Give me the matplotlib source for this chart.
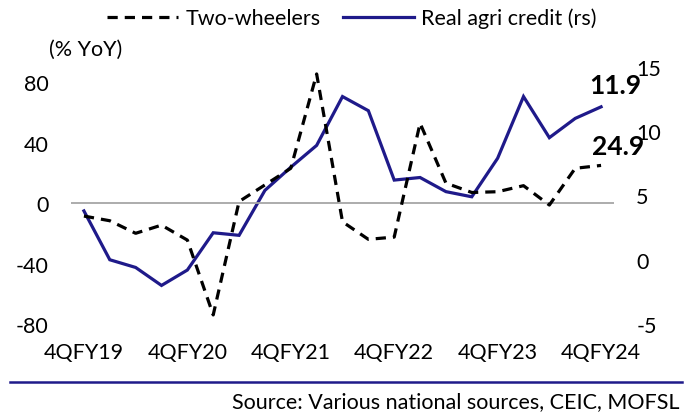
import matplotlib
matplotlib.use("Agg")
import matplotlib.pyplot as plt
from matplotlib.lines import Line2D

plt.rcParams['font.family'] = ['Lato', 'DejaVu Sans']
plt.rcParams['axes.unicode_minus'] = False

quarters = ["4QFY19", "1QFY20", "2QFY20", "3QFY20", "4QFY20", "1QFY21", "2QFY21",
            "3QFY21", "4QFY21", "1QFY22", "2QFY22", "3QFY22", "4QFY22", "1QFY23",
            "2QFY23", "3QFY23", "4QFY23", "1QFY24", "2QFY24", "3QFY24", "4QFY24"]
two_wheelers = [-8.6, -11.7, -20.0, -14.6, -24.5, -74.0, 1.0, 12.0, 23.0, 85.4, -12.4,
                -24.0, -22.5, 52.8, 13.2, 7.0, 7.5, 11.5, -1.3, 23.0, 24.9]
real_agri_credit = [3.8, 0.0, -0.6, -2.0, -0.8, 2.1, 1.9, 5.4, 7.2, 8.9, 12.7, 11.6,
                    6.2, 6.4, 5.3, 4.9, 7.9, 12.7, 9.5, 11.0, 11.9]
left_ticks = [-80, -40, 0, 40, 80]
right_ticks = [-5, 0, 5, 10, 15]
label_ticks = [0, 4, 8, 12, 16, 20]

navy = '#1F1A8A'
fs = 15.5

fig = plt.figure(figsize=(6.94, 4.14), dpi=100)
ax = fig.add_axes([71/694, 1-325/414, 543/694, 257/414])
ax2 = ax.twinx()

x = list(range(len(quarters)))
l2, = ax2.plot(x, real_agri_credit, color=navy, lw=2.3, solid_joinstyle='miter')
l1, = ax.plot(x, two_wheelers, color='black', lw=2.3, dashes=(3.2, 2.2))
ax.axhline(0, color='#A6A6A6', lw=1.3, zorder=0)

ax.set_zorder(ax2.get_zorder() + 1)
ax.patch.set_visible(False)

ax.set_xlim(-0.5, len(quarters) - 0.5)
ax.set_ylim(-80, 90)
ax2.set_ylim(-5, 15)
ax.set_yticks(left_ticks)
ax2.set_yticks(right_ticks)
ax.set_xticks(label_ticks)
ax.set_xticklabels([quarters[i] for i in label_ticks])

for a in (ax, ax2):
    for s in a.spines.values():
        s.set_visible(False)
ax.tick_params(axis='both', length=0, labelsize=fs)
ax.tick_params(axis='y', pad=16)
ax.tick_params(axis='x', pad=13)
ax2.tick_params(axis='y', length=0, labelsize=fs, pad=16)

ax2.annotate(f"{real_agri_credit[-1]:.1f}", xy=(x[-1], real_agri_credit[-1]),
             xytext=(10, 16), textcoords='offset points', ha='center', va='center',
             fontsize=19, fontweight='bold')
ax.annotate(f"{two_wheelers[-1]:.1f}", xy=(x[-1], two_wheelers[-1]),
            xytext=(12, 14), textcoords='offset points', ha='center', va='center',
            fontsize=19, fontweight='bold')

fig.text(86/694, 1-50/414, "(% YoY)", ha='center', va='center', fontsize=fs)

handles = [Line2D([], [], color='black', lw=2.3, dashes=(3.2, 2.2)),
           Line2D([], [], color=navy, lw=2.3)]
fig.legend(handles, ["Two-wheelers", "Real agri credit (rs)"], ncol=2, loc='center',
           bbox_to_anchor=(352/694, 1-19/414), frameon=False, fontsize=fs,
           handlelength=3.3, handletextpad=0.35, columnspacing=1.0, borderpad=0)

fig.add_artist(Line2D([10/694, 682/694], [1-383/414, 1-383/414], color=navy, lw=1.8,
                      transform=fig.transFigure))
fig.text(680/694, 1-402/414, "Source: Various national sources, CEIC, MOFSL",
         ha='right', va='center', fontsize=fs)

fig.savefig("out.png", dpi=100)
